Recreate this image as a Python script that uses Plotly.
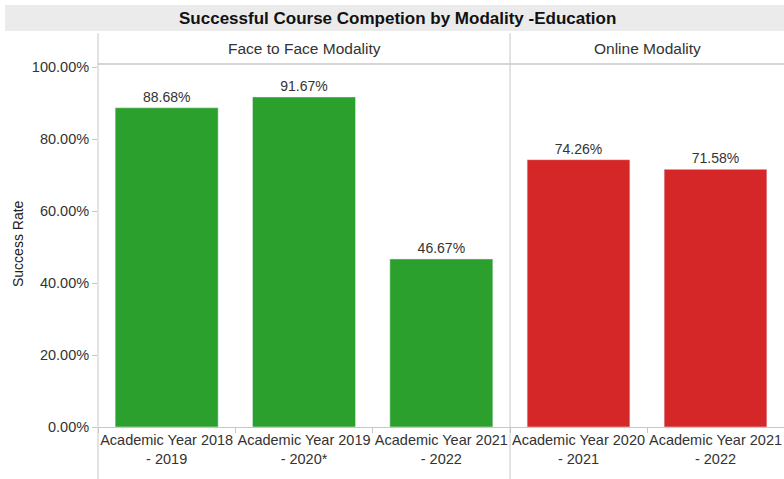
import plotly.graph_objects as go

# ---- data ----
ftf_years = ["Academic Year 2018<br>- 2019", "Academic Year 2019<br>- 2020*", "Academic Year 2021<br>- 2022"]
ftf_rates = [88.68, 91.67, 46.67]
online_years = ["Academic Year 2020<br>- 2021", "Academic Year 2021<br>- 2022"]
online_rates = [74.26, 71.58]
panel_titles = ["Face to Face Modality", "Online Modality"]
y_ticks = [0, 20, 40, 60, 80, 100]
chart_title = "Successful Course Competion by Modality -Education"
y_title = "Success Rate"

W, H = 784, 479
L, R, T, B = 98, 0, 64, 52
PW, PH = W - L - R, H - T - B
SPLIT = 510

def xp(px):
    return (px - L) / PW

def yp(py):
    return (H - B - py) / PH

GREEN = "#2ca02c"
RED = "#d62728"
LINE = "#c8c8c8"
TXT = "#333333"
FONT = "Liberation Sans, Arial, sans-serif"

fig = go.Figure()
fig.add_trace(go.Bar(
    x=ftf_years, y=ftf_rates, marker_color=GREEN, width=0.75,
    texttemplate="%{y:.2f}%", textposition="outside", cliponaxis=False,
    textfont=dict(size=14, color=TXT), xaxis="x", yaxis="y", showlegend=False,
))
fig.add_trace(go.Bar(
    x=online_years, y=online_rates, marker_color=RED, width=0.75,
    texttemplate="%{y:.2f}%", textposition="outside", cliponaxis=False,
    textfont=dict(size=14, color=TXT), xaxis="x2", yaxis="y2", showlegend=False,
))

yrange = [0, (H - B - T) / 3.6]
xcommon = dict(type="category", showgrid=False, showline=True, linecolor=LINE, linewidth=1,
               ticks="outside", ticklen=5, tickcolor=LINE, tickson="boundaries",
               tickangle=0, automargin=False,
               tickfont=dict(size=14.5, color=TXT, family=FONT), zeroline=False, fixedrange=True)
fig.update_layout(
    width=W, height=H, margin=dict(l=L, r=R, t=T, b=B, autoexpand=False),
    paper_bgcolor="white", plot_bgcolor="white",
    font=dict(family=FONT, color=TXT),
    bargap=0.25,
    xaxis=dict(domain=[0, xp(SPLIT)], **xcommon),
    xaxis2=dict(domain=[xp(SPLIT), 1], anchor="y2", **xcommon),
    yaxis=dict(range=yrange, tickvals=y_ticks, ticktext=[f"{v:.2f}%" for v in y_ticks],
               showgrid=False, zeroline=False, showline=False, ticks="outside", ticklen=5,
               automargin=False,
               tickcolor=LINE, tickfont=dict(size=14.5, color=TXT, family=FONT)),
    yaxis2=dict(range=yrange, anchor="x2", showticklabels=False, showgrid=False,
                zeroline=False, showline=False, automargin=False),
)

shapes = [
    dict(type="rect", xref="paper", yref="paper", x0=xp(5), x1=xp(W), y0=yp(31), y1=yp(5),
         fillcolor="#ebebeb", line=dict(width=0), layer="below"),
    dict(type="line", xref="paper", yref="paper", x0=xp(L), x1=xp(L), y0=yp(H), y1=yp(33),
         line=dict(color=LINE, width=1)),
    dict(type="line", xref="paper", yref="paper", x0=xp(SPLIT), x1=xp(SPLIT), y0=yp(H), y1=yp(33),
         line=dict(color=LINE, width=1)),
    dict(type="line", xref="paper", yref="paper", x0=xp(L), x1=xp(W), y0=1, y1=1,
         line=dict(color=LINE, width=1.5)),
]
ann_common = dict(xref="paper", yref="paper", showarrow=False, xanchor="center", yanchor="middle")
annotations = [
    dict(text=f"<b>{chart_title}</b>", x=xp(397), y=yp(18),
         font=dict(size=17, color="#111111", family=FONT), **ann_common),
    dict(text=panel_titles[0], x=xp((L + SPLIT) / 2), y=yp(48),
         font=dict(size=15.5, color=TXT, family=FONT), **ann_common),
    dict(text=panel_titles[1], x=xp((SPLIT + W) / 2), y=yp(48),
         font=dict(size=15.5, color=TXT, family=FONT), **ann_common),
    dict(text=y_title, x=xp(18), y=yp(244), textangle=-90,
         font=dict(size=14, color="#222222", family=FONT), **ann_common),
]
fig.update_layout(shapes=shapes, annotations=annotations)

fig.write_html("out.html")
